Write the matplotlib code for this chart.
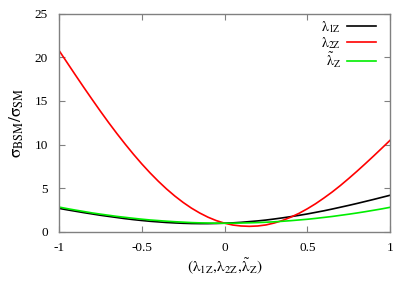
import matplotlib
matplotlib.use("Agg")
import matplotlib.pyplot as plt

plt.rcParams['font.family'] = 'Liberation Serif'
plt.rcParams['mathtext.fontset'] = 'stix'
plt.rcParams['axes.unicode_minus'] = False

# coupling values along the x axis
coupling = [-1.0, -0.95, -0.9, -0.85, -0.8, -0.75, -0.7, -0.65, -0.6, -0.55,
            -0.5, -0.45, -0.4, -0.35, -0.3, -0.25, -0.2, -0.15, -0.1, -0.05,
            0.0, 0.05, 0.1, 0.15, 0.2, 0.25, 0.3, 0.35, 0.4, 0.45,
            0.5, 0.55, 0.6, 0.65, 0.7, 0.75, 0.8, 0.85, 0.9, 0.95, 1.0]

# ratio sigma_BSM / sigma_SM
ratio_l1z = [2.70, 2.53, 2.37, 2.21, 2.06, 1.91, 1.78, 1.65, 1.52, 1.41,
             1.31, 1.22, 1.15, 1.08, 1.03, 0.99, 0.96, 0.95, 0.95, 0.97,
             1.00, 1.04, 1.10, 1.18, 1.26, 1.36, 1.48, 1.61, 1.75, 1.90,
             2.06, 2.24, 2.42, 2.62, 2.83, 3.04, 3.26, 3.49, 3.72, 3.96, 4.20]
ratio_l2z = [20.8, 19.38, 17.96, 16.56, 15.19, 13.84, 12.53, 11.27, 10.06, 8.90,
             7.80, 6.77, 5.81, 4.92, 4.11, 3.38, 2.73, 2.17, 1.69, 1.30,
             1.00, 0.79, 0.68, 0.64, 0.68, 0.80, 1.02, 1.31, 1.69, 2.13,
             2.65, 3.23, 3.88, 4.57, 5.32, 6.12, 6.95, 7.81, 8.69, 9.59, 10.5]
ratio_ltz = [2.85, 2.67, 2.50, 2.34, 2.18, 2.04, 1.91, 1.78, 1.67, 1.56,
             1.46, 1.37, 1.30, 1.23, 1.17, 1.12, 1.07, 1.04, 1.02, 1.00,
             1.00, 1.00, 1.02, 1.04, 1.07, 1.11, 1.16, 1.22, 1.29, 1.37,
             1.45, 1.55, 1.66, 1.77, 1.90, 2.03, 2.17, 2.32, 2.48, 2.64, 2.82]

xticks = [-1, -0.5, 0, 0.5, 1]
xticklabels = ['-1', '-0.5', '0', '0.5', '1']
yticks = [0, 5, 10, 15, 20, 25]

fig = plt.figure(figsize=(4.15, 2.91), dpi=100)
ax = fig.add_axes([0.142, 0.203, 0.798, 0.750])

ax.plot(coupling, ratio_l1z, color='black', lw=1.2, label=r'$\mathrm{λ}_{\rm 1Z}$')
ax.plot(coupling, ratio_l2z, color='#ff0000', lw=1.2, label=r'$\mathrm{λ}_{\rm 2Z}$')
ax.plot(coupling, ratio_ltz, color='#00ee00', lw=1.2, label=r'$\tilde{\mathrm{λ}}_{\rm Z}$')

ax.set_xlim(-1, 1)
ax.set_ylim(0, 25)
ax.set_xticks(xticks)
ax.set_xticklabels(xticklabels)
ax.set_yticks(yticks)
ax.tick_params(direction='in', top=True, right=True, labelsize=9.5, length=4,
               color='#808080')
ax.tick_params(axis='y', pad=8)
ax.tick_params(axis='x', pad=7)
for s in ax.spines.values():
    s.set_color('#808080')
    s.set_linewidth(1.0)

ax.set_xlabel(r'$(\mathrm{λ}_{\rm 1Z},\!\mathrm{λ}_{\rm 2Z},\!\tilde{\mathrm{λ}}_{\rm Z})$',
              fontsize=11, labelpad=2)
ax.set_ylabel(r'$\mathrm{σ}_{\rm BSM}/\mathrm{σ}_{\rm SM}$', fontsize=12.5, labelpad=6)

ax.legend(loc='upper right', bbox_to_anchor=(0.957, 0.975), frameon=False,
          markerfirst=False, fontsize=10, handlelength=2.1, handletextpad=0.4,
          labelspacing=0.0, borderaxespad=0.0, borderpad=0.0)

fig.savefig('out.png', dpi=100)
